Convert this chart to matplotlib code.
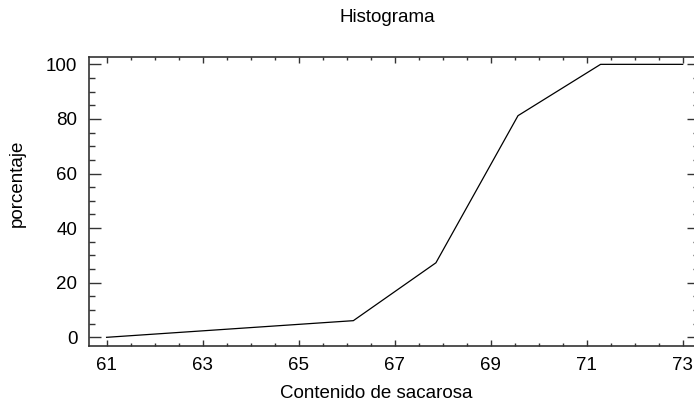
import matplotlib
matplotlib.use("Agg")
import matplotlib.pyplot as plt
from matplotlib.ticker import MultipleLocator

plt.rcParams['font.family'] = ['Liberation Sans', 'DejaVu Sans']

# cumulative percentage at each class boundary
sacarosa = [61.0, 66.14, 67.86, 69.57, 71.29, 73.0]
porcentaje = [0.0, 6.1, 27.3, 81.2, 100.0, 100.0]

x_ticks = [61, 63, 65, 67, 69, 71, 73]
y_ticks = [0, 20, 40, 60, 80, 100]

fig = plt.figure(figsize=(6.94, 4.04), dpi=100)
ax = fig.add_axes([89.3 / 694, 58 / 404, (699 - 89.3) / 694, (346 - 56.7) / 404])

ax.plot(sacarosa, porcentaje, color='black', linewidth=0.9)

ax.set_xlim(60.64, 73.34)
ax.set_ylim(-3.18, 102.8)
ax.set_xticks(x_ticks)
ax.set_yticks(y_ticks)
ax.xaxis.set_minor_locator(MultipleLocator(0.5))
ax.yaxis.set_minor_locator(MultipleLocator(5))

edge = '#333333'
for side in ['left', 'right', 'top', 'bottom']:
    ax.spines[side].set_color(edge)
    ax.spines[side].set_linewidth(1.2)

ax.tick_params(axis='both', which='both', direction='in', colors=edge,
               labelcolor='black', labelsize=13.5, width=1.0)
ax.tick_params(axis='x', which='major', length=4.5, top=True, pad=8)
ax.tick_params(axis='x', which='minor', length=2.2, top=True)
ax.tick_params(axis='y', which='major', length=8.5, right=True, pad=8.5)
ax.tick_params(axis='y', which='minor', length=4.3, right=True)

fig.text(387 / 694, 1 - 18 / 404, 'Histograma', ha='center', va='center', fontsize=13.5)
fig.text(376.5 / 694, 1 - 393 / 404, 'Contenido de sacarosa', ha='center', va='center', fontsize=13.5)
fig.text(17 / 694, 1 - 183 / 404, 'porcentaje', ha='center', va='center',
         rotation=90, fontsize=13.5)

fig.savefig('out.png', dpi=100)
